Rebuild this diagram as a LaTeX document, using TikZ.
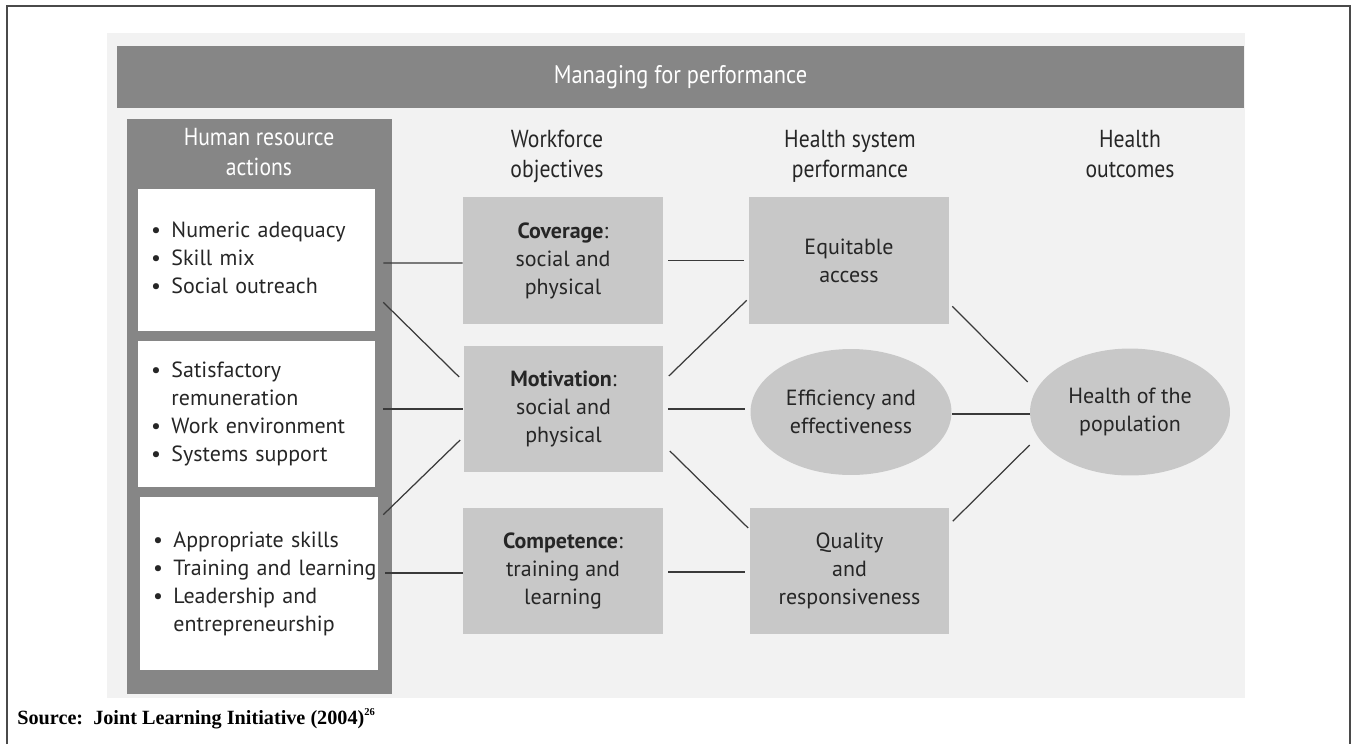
\documentclass[tikz,border=0pt]{standalone}
\usepackage{fontspec}
\setmainfont{PT Sans}
\newfontfamily\headfont[FakeStretch=0.88]{PT Sans}
\newfontfamily\srcfont{Liberation Serif}
\usetikzlibrary{shapes.geometric, calc}
\definecolor{panelgray}{HTML}{F2F2F2}
\definecolor{bargray}{HTML}{868686}
\definecolor{boxgray}{HTML}{C8C8C8}
\definecolor{inkgray}{HTML}{262626}
\definecolor{linkgray}{HTML}{3A3A3A}
\definecolor{framegray}{HTML}{4A4A4A}
\newcommand\bodytext{\fontsize{12.5}{15.9}\selectfont}
\newcommand\headtext{\headfont\fontsize{14}{17}\selectfont}
\newcommand\hrlist[1]{\begin{tabular}{@{}l@{\hspace{6pt}}l@{}}#1\end{tabular}}
\tikzset{
  % --- Khung ----------------------------------------------
  frame/.style={draw=framegray, line width=0.9pt},
  bar/.style={fill=bargray, minimum width=22.54cm, minimum height=1.24cm,
    text=white, font=\headfont\fontsize{14.5}{17}\selectfont, inner sep=0pt},
  colhead/.style={anchor=north, align=center, font=\headtext, text=inkgray,
    inner sep=0pt},
  % --- Hop ------------------------------------------------
  hrbox/.style={fill=white, text width=4.22cm, inner xsep=0.26cm,
    inner ysep=0pt, align=left, font=\bodytext, text=inkgray},
  objbox/.style={fill=boxgray, minimum width=4.0cm, minimum height=2.54cm,
    align=center, font=\bodytext, text=inkgray, inner sep=2pt},
  outell/.style={ellipse, fill=boxgray, minimum width=4.02cm,
    minimum height=2.52cm, align=center, font=\bodytext, text=inkgray,
    inner sep=1pt},
  link/.style={draw=linkgray, line width=0.7pt}
}
\begin{document}
\begin{tikzpicture}[x=0.02cm, y=-0.02cm]
  \useasboundingbox (0,0) rectangle (1351,744);

  % --- Khung ngoai, nen ---------------------------------------
  \draw[frame] (7,744) -- (7,6) -- (1350,6) -- (1350,744);
  \fill[panelgray] (107,33) rectangle (1245,698);
  \node[bar] (top) at (680.5,77) {Managing for performance};
  \fill[bargray] (127,119) rectangle (392,694);

  % --- Tieu de cot ---------------------------------------------
  \node[colhead, text=white] (hHR) at (259,128) {Human resource\\actions};
  \node[colhead] (hWF) at (557,130) {Workforce\\objectives};
  \node[colhead] (hHS) at (850,130) {Health system\\performance};
  \node[colhead] (hHO) at (1130,130) {Health\\outcomes};

  % --- Cot 1: hanh dong ----------------------------------------
  \node[hrbox, minimum height=2.84cm] (b1) at (256.5,260)
    {\hrlist{\textbullet & Numeric adequacy\\ \textbullet & Skill mix\\ \textbullet & Social outreach}};
  \node[hrbox, minimum height=2.92cm] (b2) at (256.5,414)
    {\hrlist{\textbullet & Satisfactory\\ & remuneration\\ \textbullet & Work environment\\ \textbullet & Systems support}};
  \node[hrbox, minimum height=3.46cm, text width=4.24cm] (b3) at (259,583.5)
    {\hrlist{\textbullet & Appropriate skills\\ \textbullet & Training and learning\\ \textbullet & Leadership and\\ & entrepreneurship}};

  % --- Cot 2: muc tieu ------------------------------------------
  \node[objbox] (cov) at (563,260.5) {\textbf{Coverage}:\\social and\\physical};
  \node[objbox] (mot) at (563.5,409) {\textbf{Motivation}:\\social and\\physical};
  \node[objbox] (comp) at (563,571) {\textbf{Competence}:\\training and\\learning};

  % --- Cot 3, 4: hieu qua, ket qua --------------------------------
  \node[objbox] (eq) at (849,260.5) {Equitable\\access};
  \node[outell] (eff) at (851,412) {Efficiency and\\effectiveness};
  \node[objbox] (qual) at (849.5,571) {Quality\\and\\responsiveness};
  \node[outell, minimum width=4.0cm, minimum height=2.54cm] (pop) at (1130,412) {Health of the\\population};

  % --- Duong noi --------------------------------------------------
  \draw[link] ($(b1.east)+(8,3)$) -- ($(cov.west)+(0,2.5)$);
  \draw[link] ($(b1.south east)+(8,-29)$) -- ($(mot.west)+(-4,-32)$);
  \draw[link] ($(b2.east)+(8,-5)$) -- (mot.west);
  \draw[link] ($(b3.north east)+(5,18)$) -- ($(mot.west)+(-3,31)$);
  \draw[link] ($(b3.east)+(7,-10.5)$) -- ($(comp.west)+(0,2)$);

  \draw[link] ($(cov.east)+(5,0)$) -- ($(eq.west)+(-5,0)$);
  \draw[link] ($(mot.east)+(5,-33)$) -- ($(eq.south west)+(-2,-24)$);
  \draw[link] ($(mot.east)+(4,0)$) -- ($(eff.west)+(-5,-3)$);
  \draw[link] ($(mot.east)+(6,42)$) -- ($(qual.west)+(-1,-43)$);
  \draw[link] ($(comp.east)+(5,1)$) -- ($(qual.west)+(-4,1)$);

  \draw[link] ($(eq.south east)+(3,-18)$) -- ($(pop.west)+(-2,-30)$);
  \draw[link] ($(eff.east)+(0,2)$) -- ($(pop.west)+(0,2)$);
  \draw[link] ($(qual.north east)+(3,14)$) -- ($(pop.west)+(0,33)$);

  % --- Nguon ------------------------------------------------------
  \node[anchor=base west, inner sep=0pt, text=black,
    font=\srcfont\bfseries\fontsize{11.5}{14}\selectfont] (src) at (17,724)
    {Source:\ \ Joint Learning Initiative (2004)\raisebox{0.9ex}{\fontsize{6}{7}\selectfont 26}};
\end{tikzpicture}
\end{document}
